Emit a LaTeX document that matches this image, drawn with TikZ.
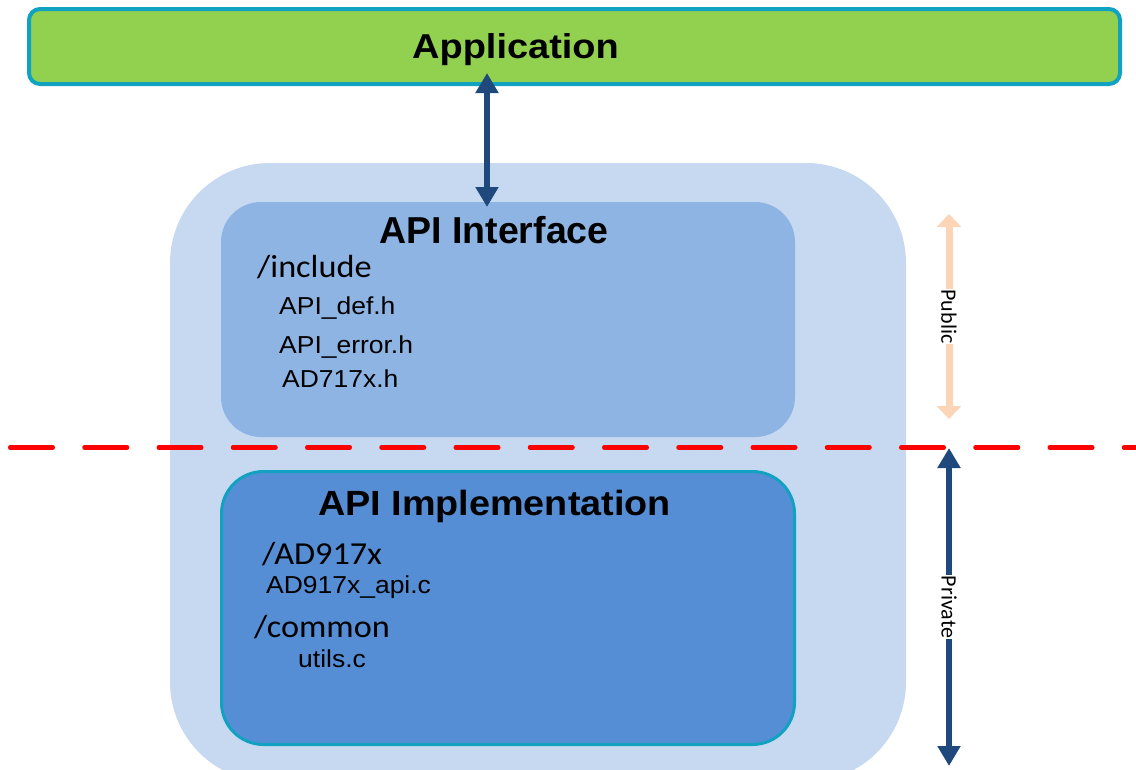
\documentclass[tikz,border=0pt]{standalone}
\usepackage{fontspec}
\setmainfont{Liberation Sans}
\newfontfamily\dirfont{Carlito}
\usetikzlibrary{arrows.meta}

\definecolor{appgreen}{HTML}{92D050}
\definecolor{tealedge}{HTML}{10A2C0}
\definecolor{outerblue}{HTML}{C6D9F0}
\definecolor{ifaceblue}{HTML}{8EB4E3}
\definecolor{implblue}{HTML}{558ED5}
\definecolor{navy}{HTML}{1F497D}
\definecolor{peach}{HTML}{FBD5B5}
\definecolor{cutred}{HTML}{FF0000}

\tikzset{
  layerbox/.style={inner sep=0pt, outer sep=0pt},
  title/.style={inner sep=0pt, anchor=base, font=\bfseries\fontsize{#1}{#1}\selectfont},
  dirtext/.style={inner sep=0pt, anchor=base west, xscale=1.07, font=\dirfont\fontsize{32}{36}\selectfont},
  filetext/.style={inner sep=0pt, anchor=base west, xscale=1.08, font=\fontsize{24.5}{28}\selectfont},
  sidelabel/.style={midway, rotate=-90, fill=white, inner sep=1pt, font=\dirfont\fontsize{22}{26}\selectfont},
  navyarrow/.style={draw=navy, line width=6pt, {Triangle[width=22pt,length=20pt]}-{Triangle[width=22pt,length=20pt]}},
}

\begin{document}
\begin{tikzpicture}[x=1pt,y=-1pt]
\useasboundingbox (0,0) rectangle (1136,769);
\clip (0,0) rectangle (1136,769);

% top layer: the application
\node[layerbox, draw=tealedge, line width=4pt, fill=appgreen, rounded corners=11pt,
      minimum width=1091pt, minimum height=75pt] (app) at (574.5,46.5) {};
\node[title=34.5, xscale=1.1] (apptext) at (515.5,58) {Application};

% driver package: public and private parts
\node[layerbox, fill=outerblue, rounded corners=100pt,
      minimum width=736pt, minimum height=619pt] (driver) at (538,472.5) {};

\node[layerbox, fill=ifaceblue, rounded corners=40pt,
      minimum width=574pt, minimum height=235pt] (iface) at (508,319.5) {};
\node[title=37.5] (ifacetitle) at (494,243) {API Interface};
\node[dirtext] (incdir) at (257,277) {/include};
\node[filetext] (defh) at (279,314) {API\_def.h};
\node[filetext] (errh) at (279,353) {API\_error.h};
\node[filetext] (devh) at (282,387) {AD717x.h};

\node[layerbox, draw=tealedge, line width=3pt, fill=implblue, rounded corners=42pt,
      minimum width=573pt, minimum height=273pt] (impl) at (508,608) {};
\node[title=35, xscale=1.08] (impltitle) at (494.5,515) {API Implementation};
\node[dirtext] (devdir) at (262,564) {/AD917x};
\node[filetext] (apic) at (266,593) {AD917x\_api.c};
\node[dirtext] (comdir) at (254,637) {/common};
\node[filetext] (utilc) at (298,667) {utils.c};

% application <-> API link
\coordinate (linktop) at (487,73);
\coordinate (linkbot) at (487,207);
\draw[navyarrow] (linktop) -- (linkbot);

% public / private boundary
\coordinate (cutL) at (10.25,447.5);
\coordinate (cutR) at (1140,447.5);
\draw[cutred, line width=4.5pt, line cap=round, dash pattern=on 42.5pt off 31.75pt] (cutL) -- (cutR);

% side markers
\coordinate (pubtop) at (949,214);
\coordinate (pubbot) at (949,419);
\draw[draw=peach, line width=7pt, {Triangle[width=24pt,length=13pt]}-{Triangle[width=24pt,length=13pt]}]
  (pubtop) -- node[sidelabel] (publabel) {Public} (pubbot);

\coordinate (privtop) at (949,448);
\coordinate (privbot) at (949,766);
\draw[navyarrow] (privtop) -- node[sidelabel] (privlabel) {Private} (privbot);

\end{tikzpicture}
\end{document}
